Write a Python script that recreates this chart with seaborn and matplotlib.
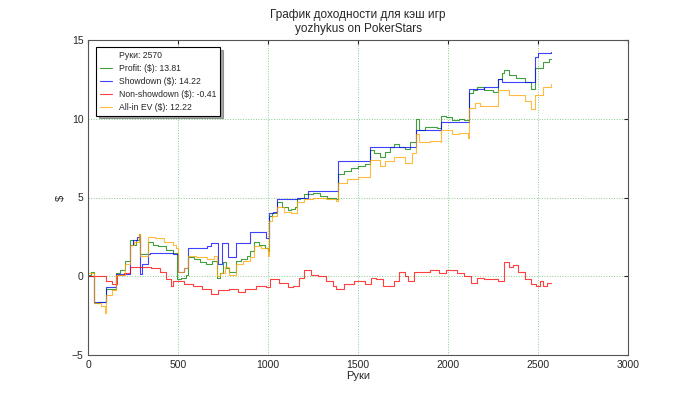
import matplotlib
matplotlib.use('Agg')
import matplotlib.pyplot as plt
import seaborn as sns
import pandas as pd
from matplotlib.lines import Line2D

# profit (green)
profit_hands = [0, 15, 30, 60, 100, 155, 175, 205, 235, 250, 265, 280, 290, 333, 360, 390,
                430, 470, 495, 515, 545, 555, 590, 620, 655, 690, 715, 735, 750, 765, 780,
                820, 850, 880, 900, 920, 950, 980, 1000, 1007, 1020, 1050, 1080, 1110, 1130,
                1150, 1160, 1180, 1200, 1250, 1290, 1330, 1380, 1388, 1420, 1460, 1500, 1540,
                1568, 1590, 1620, 1650, 1680, 1700, 1730, 1760, 1790, 1822, 1840, 1870, 1900,
                1940, 1963, 1990, 2020, 2060, 2090, 2116, 2140, 2160, 2200, 2250, 2279, 2300,
                2310, 2340, 2380, 2430, 2460, 2485, 2530, 2560, 2570]
profit_vals = [0.1, 0.3, -1.7, -1.6, -0.8, 0.2, 0.4, 1.0, 2.3, 2.0, 2.3, 2.7, 1.4, 2.2, 2.0, 1.9,
               1.7, 1.5, -0.2, -0.1, 0.1, 1.2, 1.1, 0.9, 0.8, 1.0, -0.1, 0.2, 0.9, 0.5, 0.3,
               1.0, 1.1, 1.3, 1.6, 2.2, 2.0, 1.8, 1.6, 3.8, 4.0, 4.7, 4.4, 4.2, 4.3,
               4.4, 4.9, 5.0, 5.2, 5.3, 5.1, 5.0, 4.9, 6.5, 6.7, 6.9, 7.0, 7.1,
               8.0, 7.8, 7.6, 7.9, 8.2, 8.4, 8.2, 8.1, 8.5, 10.0, 9.3, 9.5, 9.5,
               9.4, 10.2, 10.1, 9.9, 10.0, 9.9, 11.6, 11.8, 12.0, 11.8, 11.7, 12.5, 12.9,
               13.1, 12.8, 12.6, 12.3, 11.9, 13.2, 13.6, 13.8, 13.81]

# showdown (blue)
sd_hands = [0, 30, 100, 155, 230, 250, 270, 290, 300, 333, 345, 470, 500, 530, 555, 660, 680,
            720, 745, 775, 820, 900, 990, 1007, 1025, 1050, 1160, 1220, 1388, 1568, 1822,
            1963, 2116, 2200, 2279, 2300, 2485, 2500, 2570]
sd_vals = [0.0, -1.6, -0.7, 0.15, 2.0, 2.3, 2.5, 0.15, 0.8, 1.4, 1.5, 1.4, 0.3, 0.5, 1.8, 1.9, 2.1,
           0.8, 2.1, 1.2, 2.1, 2.8, 2.4, 4.0, 4.1, 4.9, 5.0, 5.4, 7.3, 8.2, 9.3,
           9.8, 11.9, 12.0, 12.5, 12.3, 13.9, 14.2, 14.22]

# non-showdown (red)
nsd_hands = [0, 50, 100, 130, 160, 200, 235, 300, 350, 400, 430, 460, 470, 530, 580, 630, 680,
             720, 780, 830, 870, 930, 990, 1010, 1060, 1110, 1140, 1170, 1200, 1240, 1280,
             1320, 1360, 1380, 1420, 1480, 1540, 1570, 1600, 1640, 1700, 1730, 1760, 1780,
             1810, 1850, 1900, 1950, 1990, 2050, 2090, 2130, 2160, 2200, 2280, 2310, 2340,
             2360, 2390, 2430, 2460, 2490, 2510, 2530, 2550, 2570]
nsd_vals = [0.0, 0.0, -0.3, -0.5, 0.1, 0.2, 0.6, 0.6, 0.5, 0.3, -0.2, -0.6, -0.3, -0.5, -0.6, -0.8, -1.1,
            -0.9, -0.8, -1.0, -0.8, -0.6, -0.7, -0.2, -0.4, -0.7, -0.6, -0.1, 0.4, 0.1, 0.0,
            -0.3, -0.6, -0.8, -0.5, -0.3, -0.5, -0.1, -0.2, -0.6, -0.3, 0.3, 0.0, -0.3,
            0.3, 0.3, 0.4, 0.2, 0.4, 0.2, 0.0, -0.4, -0.1, -0.2, -0.3, 0.9, 0.6,
            0.7, 0.3, -0.2, -0.5, -0.6, -0.3, -0.6, -0.4, -0.41]

# all-in EV (orange)
ev_hands = [0, 30, 70, 95, 100, 130, 155, 205, 235, 255, 280, 290, 333, 370, 420, 470, 490, 500,
            530, 555, 600, 660, 700, 715, 735, 760, 780, 820, 860, 900, 920, 960, 1000, 1007,
            1020, 1050, 1090, 1130, 1160, 1200, 1250, 1320, 1380, 1388, 1440, 1500, 1568, 1620,
            1650, 1700, 1760, 1800, 1822, 1840, 1900, 1960, 1963, 2020, 2060, 2110, 2116, 2150,
            2180, 2279, 2340, 2430, 2460, 2485, 2530, 2570]
ev_vals = [0.2, -1.7, -1.9, -2.3, -1.2, -0.9, 0.1, 0.8, 2.0, 2.2, 2.7, 1.3, 2.5, 2.4, 2.2, 2.0, 1.8, 0.3,
           0.5, 1.3, 1.2, 1.1, 1.3, 0.0, 0.2, 0.6, 0.1, 0.8, 1.0, 1.2, 1.9, 1.8, 1.3, 3.5,
           3.8, 4.4, 4.1, 4.0, 4.7, 4.9, 5.0, 4.9, 4.8, 5.9, 6.2, 6.3, 7.4, 7.0,
           7.3, 7.6, 7.2, 7.8, 9.05, 8.5, 8.6, 8.5, 9.3, 9.0, 9.1, 8.8, 10.7, 11.0,
           10.8, 11.8, 11.5, 11.1, 10.6, 11.5, 12.0, 12.22]

total_hands = 2570
labels = ['Profit: ($): 13.81', 'Showdown ($): 14.22', 'Non-showdown ($): -0.41', 'All-in EV ($): 12.22']
colors = ['#008000', '#0000ff', '#ff0000', '#ffa500']

sns.set_style('white')
plt.rcParams['font.family'] = ['Liberation Sans', 'DejaVu Sans']

fig = plt.figure(figsize=(7, 3.95), dpi=100)
ax = fig.add_axes([0.126, 0.101, 0.771, 0.798])

series = [(profit_hands, profit_vals), (sd_hands, sd_vals), (nsd_hands, nsd_vals), (ev_hands, ev_vals)]
for (h, v), c in zip(series, colors):
    df = pd.DataFrame({'hands': h, 'val': v})
    sns.lineplot(data=df, x='hands', y='val', ax=ax, color=c, lw=0.8, alpha=0.75,
                 drawstyle='steps-post', legend=False, estimator=None)

ax.set_xlim(0, 3000)
ax.set_ylim(-5, 15)
ax.set_xticks([0, 500, 1000, 1500, 2000, 2500, 3000])
ax.set_yticks([-5, 0, 5, 10, 15])
ax.grid(True, color='#88cc88', linestyle=':', linewidth=0.7)
ax.tick_params(labelsize=7.5, direction='in', top=True, right=True, length=3)
for s in ax.spines.values():
    s.set_color('#555555')
    s.set_linewidth(0.8)
ax.set_xlabel('Руки', fontsize=8, labelpad=1)
ax.set_ylabel('$', fontsize=8, labelpad=4)
ax.set_title('График доходности для кэш игр\nyozhykus on PokerStars', fontsize=8.5, pad=6)

handles = [Line2D([], [], color='none')] + [Line2D([], [], color=c, lw=0.8, alpha=0.75) for c in colors]
leg = ax.legend(handles, ['Руки: %d' % total_hands] + labels, loc='upper left', fontsize=6.2,
                shadow=True, fancybox=False, frameon=True, handlelength=1.4,
                borderpad=0.45, labelspacing=0.45, handletextpad=0.8,
                bbox_to_anchor=(0.006, 0.99))
leg.get_frame().set_edgecolor('black')
leg.get_frame().set_linewidth(0.8)

fig.savefig('out.png', dpi=100)
